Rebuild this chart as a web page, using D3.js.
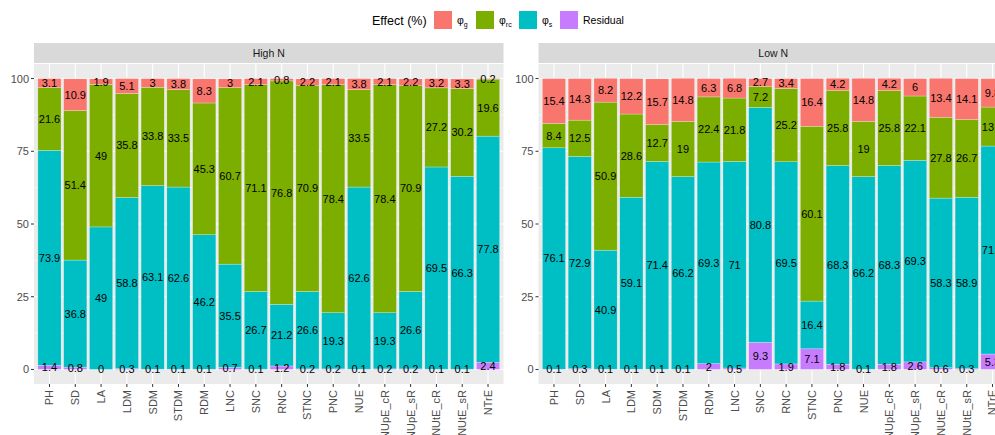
<!DOCTYPE html>
<meta charset="utf-8">
<html>
<style>
body { margin: 0; overflow: hidden; background: #fff; }
svg { font-family: "Liberation Sans", Arial, sans-serif; }
.grid-major { stroke: #fff; stroke-width: 1.1px; }
.grid-minor { stroke: #fff; stroke-width: 0.55px; }
.tick-lab { fill: #4D4D4D; font-size: 11px; }
.tick { stroke: #333; stroke-width: 1px; }
.bar-lab { fill: #000; font-size: 11px; }
</style>
<body>
<script src="https://cdnjs.cloudflare.com/ajax/libs/d3/7.8.5/d3.min.js"></script>
<script>
	var traits = ["PH", "SD", "LA", "LDM", "SDM", "STDM", "RDM", "LNC", "SNC", "RNC",
		"STNC", "PNC", "NUE", "NUpE_cR", "NUpE_sR", "NUtE_cR", "NUtE_sR", "NTrE"];

	// High N
	var highG = [3.1, 10.9, 1.9, 5.1, 3, 3.8, 8.3, 3, 2.1, 0.8, 2.2, 2.1, 3.8, 2.1, 2.2, 3.2, 3.3, 0.2];
	var highRC = [21.6, 51.4, 49, 35.8, 33.8, 33.5, 45.3, 60.7, 71.1, 76.8, 70.9, 78.4, 33.5, 78.4, 70.9, 27.2, 30.2, 19.6];
	var highS = [73.9, 36.8, 49, 58.8, 63.1, 62.6, 46.2, 35.5, 26.7, 21.2, 26.6, 19.3, 62.6, 19.3, 26.6, 69.5, 66.3, 77.8];
	var highRes = [1.4, 0.8, 0, 0.3, 0.1, 0.1, 0.1, 0.7, 0.1, 1.2, 0.2, 0.2, 0.1, 0.2, 0.2, 0.1, 0.1, 2.4];

	// Low N
	var lowG = [15.4, 14.3, 8.2, 12.2, 15.7, 14.8, 6.3, 6.8, 2.7, 3.4, 16.4, 4.2, 14.8, 4.2, 6, 13.4, 14.1, 9.8];
	var lowRC = [8.4, 12.5, 50.9, 28.6, 12.7, 19, 22.4, 21.8, 7.2, 25.2, 60.1, 25.8, 19, 25.8, 22.1, 27.8, 26.7, 13.4];
	var lowS = [76.1, 72.9, 40.9, 59.1, 71.4, 66.2, 69.3, 71, 80.8, 69.5, 16.4, 68.3, 66.2, 68.3, 69.3, 58.3, 58.9, 71.5];
	var lowRes = [0.1, 0.3, 0.1, 0.1, 0.1, 0.1, 2, 0.5, 9.3, 1.9, 7.1, 1.8, 0.1, 1.8, 2.6, 0.6, 0.3, 5.3];

	var effects = ["Residual", "s", "rc", "g"]; // bottom to top
	var effectColors = {g: "#F8766D", rc: "#7CAE00", s: "#00BFC4", Residual: "#C77CFF"};
	var yTicks = [0, 25, 50, 75, 100];

	var width = 1010;
	var height = 435;

	var svg = d3.select("body").append("svg")
		.attr("width", width)
		.attr("height", height);

	var y = d3.scaleLinear().domain([-5, 105]).range([384, 64]);

	var panels = [
		{name: "High N", left: 34, right: 503.5, data: {g: highG, rc: highRC, s: highS, Residual: highRes}},
		{name: "Low N", left: 538.5, right: 1008, data: {g: lowG, rc: lowRC, s: lowS, Residual: lowRes}}
	];

	panels.forEach(drawPanel);
	drawLegend();

	function drawPanel(p) {
		var x = d3.scaleBand().domain(traits)
			.range([p.left, p.right])
			.paddingInner(0.1)
			.paddingOuter(0.15);

		var g = svg.append("g");

		// strip
		g.append("rect").attr("x", p.left).attr("y", 43)
			.attr("width", p.right - p.left).attr("height", 20)
			.attr("fill", "#D9D9D9");
		g.append("text").attr("x", (p.left + p.right) / 2).attr("y", 57)
			.attr("text-anchor", "middle").attr("fill", "#1A1A1A")
			.style("font-size", "10.5px").text(p.name);

		// panel background
		g.append("rect").attr("x", p.left).attr("y", y(105))
			.attr("width", p.right - p.left).attr("height", y(-5) - y(105))
			.attr("fill", "#EBEBEB");

		var minor = [12.5, 37.5, 62.5, 87.5];
		g.selectAll(".grid-minor").data(minor).enter().append("line")
			.attr("class", "grid-minor")
			.attr("x1", p.left).attr("x2", p.right)
			.attr("y1", d => y(d)).attr("y2", d => y(d));
		g.selectAll(".grid-major.h").data(yTicks).enter().append("line")
			.attr("class", "grid-major h")
			.attr("x1", p.left).attr("x2", p.right)
			.attr("y1", d => y(d)).attr("y2", d => y(d));
		g.selectAll(".grid-major.v").data(traits).enter().append("line")
			.attr("class", "grid-major v")
			.attr("x1", d => x(d) + x.bandwidth() / 2).attr("x2", d => x(d) + x.bandwidth() / 2)
			.attr("y1", y(105)).attr("y2", y(-5));

		// stacked bars
		var rows = traits.map(function(t, i) {
			var r = {trait: t};
			effects.forEach(e => r[e] = p.data[e][i]);
			return r;
		});
		var series = d3.stack().keys(effects)(rows);

		series.forEach(function(s) {
			g.append("g").selectAll("rect").data(s).enter().append("rect")
				.attr("x", d => x(d.data.trait))
				.attr("width", x.bandwidth())
				.attr("y", d => y(d[1]))
				.attr("height", d => y(d[0]) - y(d[1]))
				.attr("fill", effectColors[s.key])
				.attr("stroke", "#fff")
				.attr("stroke-opacity", 0.5)
				.attr("stroke-width", 0.5);
		});

		series.forEach(function(s) {
			g.append("g").selectAll("text").data(s).enter().append("text")
				.attr("class", "bar-lab")
				.attr("x", d => x(d.data.trait) + x.bandwidth() / 2)
				.attr("y", d => y((d[0] + d[1]) / 2))
				.attr("dy", "0.36em")
				.attr("text-anchor", "middle")
				.text(d => d.data[s.key]);
		});

		// y axis
		g.selectAll(".ytick").data(yTicks).enter().append("line")
			.attr("class", "tick")
			.attr("x1", p.left - 3).attr("x2", p.left)
			.attr("y1", d => y(d)).attr("y2", d => y(d));
		g.selectAll(".ylab").data(yTicks).enter().append("text")
			.attr("class", "tick-lab")
			.attr("x", p.left - 5).attr("y", d => y(d)).attr("dy", "0.36em")
			.attr("text-anchor", "end").text(d => d);

		// x axis
		g.selectAll(".xtick").data(traits).enter().append("line")
			.attr("class", "tick")
			.attr("x1", d => x(d) + x.bandwidth() / 2).attr("x2", d => x(d) + x.bandwidth() / 2)
			.attr("y1", y(-5)).attr("y2", y(-5) + 3);
		g.selectAll(".xlab").data(traits).enter().append("text")
			.attr("class", "tick-lab")
			.attr("transform", d => "translate(" + (x(d) + x.bandwidth() / 2) + "," + (y(-5) + 6) + ") rotate(-90)")
			.attr("dy", "0.36em")
			.attr("text-anchor", "end").text(d => d);
	}

	function drawLegend() {
		var lg = svg.append("g");
		lg.append("text").attr("x", 372).attr("y", 25)
			.attr("fill", "#000").style("font-size", "12.5px").text("Effect (%)");

		var items = [
			{key: "g", x: 434, sub: "g"},
			{key: "rc", x: 476, sub: "rc"},
			{key: "s", x: 519, sub: "s"},
			{key: "Residual", x: 560, sub: null}
		];
		items.forEach(function(it) {
			lg.append("rect").attr("x", it.x).attr("y", 11)
				.attr("width", 18).attr("height", 18)
				.attr("fill", effectColors[it.key]);
			var t = lg.append("text").attr("x", it.x + 23).attr("y", 24)
				.attr("fill", "#000").style("font-size", "10.5px");
			if (it.sub) {
				t.append("tspan").text("\u03c6");
				t.append("tspan").attr("dy", 3).style("font-size", "7px").text(it.sub);
			} else {
				t.text("Residual");
			}
		});
	}
</script>
</body>
</html>
